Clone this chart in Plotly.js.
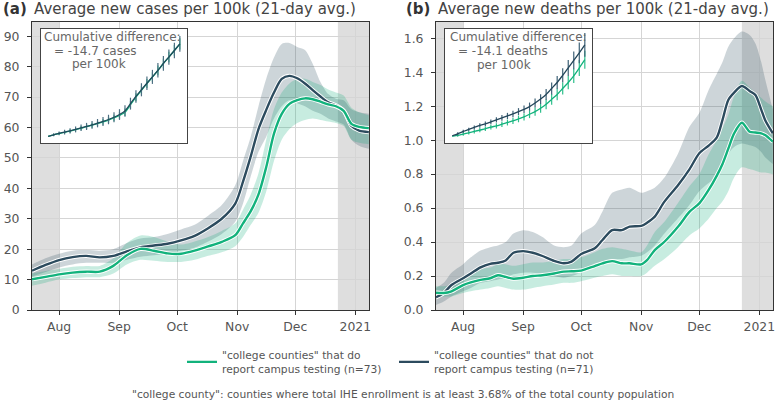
<!DOCTYPE html>
<html><head><meta charset="utf-8">
<script src="https://cdn.plot.ly/plotly-3.0.1.min.js"></script>
<style>html,body{margin:0;padding:0;background:#fff;}#chart{width:777px;height:402px;}</style>
</head><body><div id="chart"></div>
<script>
// ---------- data ----------
const caseDates = ['2020-07-18','2020-07-25','2020-08-01','2020-08-08','2020-08-15','2020-08-22','2020-08-29','2020-09-05','2020-09-12','2020-09-19','2020-09-26','2020-10-03','2020-10-10','2020-10-17','2020-10-24','2020-10-31','2020-11-04','2020-11-08','2020-11-12','2020-11-16','2020-11-20','2020-11-24','2020-11-28','2020-12-02','2020-12-06','2020-12-10','2020-12-14','2020-12-18','2020-12-22','2020-12-26','2020-12-30','2021-01-03','2021-01-08'];
const casesNoReport   = [12.9,14.8,16.4,17.4,17.8,17.3,17.8,19.3,20.6,21.2,21.8,22.9,24.4,26.9,30.0,35.0,42.2,50.5,59.5,65.8,71.5,76.0,77.0,76.2,74.5,72.3,70.2,68.3,67.3,65.5,60.5,59.0,58.5];
const casesNoReportLo = [11,12.5,14,15,15.5,15.5,15.5,16.5,17.5,18,18.5,19.5,20.5,22.5,25,29,35,44,52,57,63,67,69,68,67,65.5,64.5,63,62,61,56,54,53];
const casesNoReportHi = [15,17,18.5,19.5,19.7,19.5,20,22,23.5,24,25,26.5,28,31,34.5,41,49,57,67,76,83,87.5,87.8,86.5,85.5,81,75,71,69.5,69,66,65,64.5];
const casesReport     = [10.1,10.9,11.7,12.3,12.6,12.6,14.5,18.0,20.1,19.5,18.6,18.5,19.5,20.9,22.4,24.6,28.5,32.5,38,47,58,64.5,67.8,69,69.6,69.3,68.5,67.6,67.0,65.5,61.2,60.2,59.8];
const casesReportLo   = [8,9,10,10.5,10.8,10.8,12,15,16.5,16.2,15.8,15.8,16.5,17.8,19,21,24,28,32,39,49,56,59.5,61.5,62.5,63,62.5,62,61.5,60.5,56,55,54.5];
const casesReportHi   = [12,12.8,13.5,14.2,14.5,14.5,17,22,24.5,24,22.5,21.5,22.5,24,26,28.5,33,38,45,56,66,71.5,74.5,76,76,75,74,72.5,71.5,70.5,66.5,65,64];

const deathDates = ['2020-07-18','2020-07-22','2020-07-26','2020-08-01','2020-08-05','2020-08-10','2020-08-15','2020-08-19','2020-08-23','2020-08-27','2020-09-01','2020-09-06','2020-09-11','2020-09-17','2020-09-22','2020-09-26','2020-10-01','2020-10-08','2020-10-12','2020-10-17','2020-10-22','2020-10-26','2020-11-01','2020-11-04','2020-11-08','2020-11-13','2020-11-20','2020-11-26','2020-12-01','2020-12-06','2020-12-10','2020-12-13','2020-12-16','2020-12-19','2020-12-23','2020-12-27','2020-12-30','2021-01-02','2021-01-04','2021-01-08'];
const deathsNoReport   = [0.075,0.10,0.147,0.187,0.215,0.251,0.272,0.278,0.292,0.337,0.347,0.337,0.318,0.289,0.275,0.285,0.330,0.363,0.412,0.471,0.470,0.491,0.495,0.514,0.550,0.638,0.735,0.830,0.923,0.970,1.015,1.120,1.237,1.280,1.319,1.290,1.266,1.180,1.119,1.040];
const deathsNoReportLo = [0.03,0.05,0.08,0.11,0.13,0.16,0.17,0.18,0.19,0.21,0.22,0.22,0.21,0.2,0.19,0.2,0.22,0.25,0.28,0.3,0.3,0.31,0.32,0.34,0.38,0.45,0.54,0.62,0.7,0.75,0.78,0.85,0.92,0.96,0.98,0.97,0.96,0.93,0.9,0.86];
const deathsNoReportHi = [0.13,0.16,0.22,0.27,0.31,0.35,0.37,0.38,0.40,0.45,0.47,0.46,0.43,0.38,0.37,0.38,0.45,0.50,0.58,0.69,0.71,0.72,0.69,0.70,0.72,0.78,0.92,1.08,1.16,1.30,1.39,1.46,1.55,1.60,1.64,1.62,1.57,1.46,1.36,1.18];
const deathsReport     = [0.102,0.100,0.110,0.147,0.163,0.177,0.187,0.205,0.195,0.184,0.190,0.200,0.205,0.215,0.226,0.228,0.232,0.259,0.275,0.288,0.275,0.275,0.269,0.294,0.353,0.402,0.490,0.579,0.628,0.710,0.790,0.860,0.950,1.040,1.103,1.050,1.045,1.040,1.030,0.991];
const deathsReportLo   = [0.08,0.08,0.08,0.10,0.11,0.12,0.13,0.14,0.13,0.12,0.12,0.13,0.14,0.15,0.16,0.16,0.17,0.19,0.20,0.21,0.20,0.20,0.20,0.22,0.26,0.30,0.37,0.44,0.48,0.54,0.60,0.64,0.70,0.78,0.84,0.83,0.82,0.81,0.81,0.80];
const deathsReportHi   = [0.14,0.14,0.15,0.20,0.22,0.24,0.25,0.27,0.27,0.26,0.27,0.28,0.28,0.29,0.30,0.30,0.31,0.34,0.36,0.37,0.36,0.35,0.34,0.38,0.46,0.52,0.63,0.73,0.80,0.92,1.00,1.07,1.15,1.26,1.35,1.31,1.28,1.25,1.23,1.20];

// inset: cumulative curves (weekly), arbitrary cumulative units
const insetWeek = [0,1,2,3,4,5,6,7,8,9,10,11,12,13,14,15,16,17,18,19,20,21,22,23,24];
const insetCasesNoReport    = [6.7,8.3,9.7,11.0,12.3,13.7,15.3,16.7,18.3,20.0,21.7,23.7,26.0,28.7,32.3,39.7,47.0,53.7,60.3,66.7,73.3,80.3,86.7,93.3,100.0];
const insetCasesNoReportErr = [0,1.5,2,2.3,2.6,3,3.3,3.6,3.9,4.2,4.5,4.8,5.1,5.4,5.7,6,6.3,6.6,6.9,7.1,7.3,7.5,7.7,7.9,8];
const insetCasesReport      = [6.7,8.2,9.5,10.8,12.1,13.5,15.0,16.4,18.0,19.6,21.2,23.1,25.3,27.8,31.0,38.5,46.2,53.2,60.0,66.5,73.2,80.2,86.7,93.3,100.0];
const insetCasesReportErr   = [0,1,1.3,1.5,1.7,1.9,2.1,2.3,2.5,2.7,2.9,3.1,3.3,3.5,3.7,3.9,4.1,4.3,4.5,4.7,4.9,5.1,5.3,5.5,5.7];
const insetDeathsNoReport    = [7.3,9.3,11.7,13.7,15.7,17.7,19.3,21.3,23.3,25.3,27.3,29.3,31.7,34.0,36.7,40.3,44.3,49.0,55.0,61.0,68.3,75.7,83.3,91.0,99.0];
const insetDeathsNoReportErr = [0,1.5,1.6,1.8,2,2.2,2.3,2.5,2.7,2.9,3.1,3.3,3.5,3.8,4.1,4.5,5,5.5,6,6.5,7,8,9,10.5,12];
const insetDeathsReport      = [6.7,7.7,9.0,10.3,11.7,13.0,14.3,16.0,17.3,19.0,20.7,22.3,24.3,26.3,29.0,31.7,35.0,39.0,44.0,49.0,55.0,61.0,67.7,75.7,84.0];
const insetDeathsReportErr   = [0,1.5,1.6,1.8,2,2.1,2.3,2.5,2.6,2.8,3,3.2,3.4,3.6,3.9,4.2,4.6,5,5.4,5.8,6.2,6.7,7.2,8,9];

const monthTicks  = ['2020-08-01','2020-09-01','2020-10-01','2020-11-01','2020-12-01','2021-01-01'];
const monthLabels = ['Aug','Sep','Oct','Nov','Dec','2021'];
const casesTicks  = [0,10,20,30,40,50,60,70,80,90];
const deathsTicks = [0,0.2,0.4,0.6,0.8,1.0,1.2,1.4,1.6];
const shadeRanges = [['2020-07-18','2020-08-01'],['2020-12-23','2021-01-09']];

const seriesNames = ['"college counties" that do<br>report campus testing (n=73)',
                     '"college counties" that do not<br>report campus testing (n=71)'];

// ---------- styles ----------
const GREEN = '#12b27c', DARK = '#2c4b5e';
const GREEN_BAND = 'rgba(0,170,115,0.22)', DARK_BAND = 'rgba(46,78,98,0.24)';
const FONT = 'DejaVu Sans, Verdana, sans-serif';

function band(x, lo, hi, color, xa, ya){
  return [
    {x:x, y:lo, xaxis:xa, yaxis:ya, mode:'lines', line:{width:0, shape:'spline', smoothing:0.8}, showlegend:false, hoverinfo:'skip'},
    {x:x, y:hi, xaxis:xa, yaxis:ya, mode:'lines', fill:'tonexty', fillcolor:color, line:{width:0, shape:'spline', smoothing:0.8}, showlegend:false, hoverinfo:'skip'}
  ];
}
function mainLine(x, y, color, xa, ya, name, rank, show){
  return [
    {x:x, y:y, xaxis:xa, yaxis:ya, mode:'lines', line:{color:'#ffffff', width:4.2, shape:'spline', smoothing:0.8}, showlegend:false, hoverinfo:'skip'},
    {x:x, y:y, xaxis:xa, yaxis:ya, mode:'lines', name:name, legendrank:rank, showlegend:show, line:{color:color, width:2.4, shape:'spline', smoothing:0.8}, hoverinfo:'skip'}
  ];
}
function insetLine(y, err, color, errColor, xa, ya){
  return {x:insetWeek, y:y, xaxis:xa, yaxis:ya, mode:'lines', showlegend:false, hoverinfo:'skip',
          line:{color:color, width:1.3, shape:'spline', smoothing:0.6},
          error_y:{type:'data', array:err, visible:true, color:errColor, thickness:1.2, width:0}};
}

const traces = [].concat(
  band(caseDates, casesNoReportLo, casesNoReportHi, DARK_BAND, 'x', 'y'),
  band(caseDates, casesReportLo, casesReportHi, GREEN_BAND, 'x', 'y'),
  mainLine(caseDates, casesNoReport, DARK, 'x', 'y', seriesNames[1], 2, true),
  mainLine(caseDates, casesReport, GREEN, 'x', 'y', seriesNames[0], 1, true),
  band(deathDates, deathsNoReportLo, deathsNoReportHi, DARK_BAND, 'x2', 'y2'),
  band(deathDates, deathsReportLo, deathsReportHi, GREEN_BAND, 'x2', 'y2'),
  mainLine(deathDates, deathsNoReport, DARK, 'x2', 'y2', seriesNames[1], 2, false),
  mainLine(deathDates, deathsReport, GREEN, 'x2', 'y2', seriesNames[0], 1, false),
  [insetLine(insetCasesReport, insetCasesReportErr, GREEN, '#2fbf8c', 'x3', 'y3'),
   insetLine(insetCasesNoReport, insetCasesNoReportErr, '#1f4a5a', '#4d6f82', 'x3', 'y3'),
   insetLine(insetDeathsReport, insetDeathsReportErr, GREEN, '#2fbf8c', 'x4', 'y4'),
   insetLine(insetDeathsNoReport, insetDeathsNoReportErr, '#24465a', '#3f6277', 'x4', 'y4')]
);

const tickFont = {family:FONT, size:12.4, color:'#555'};
const mainAxis = {showline:true, mirror:true, linecolor:'#333', linewidth:1, ticks:'outside', ticklen:4, tickcolor:'#333',
  tickfont:tickFont, showgrid:true, gridcolor:'#d5d5d5', gridwidth:1, zeroline:false, fixedrange:true};
const xDate = Object.assign({}, mainAxis, {type:'date', range:['2020-07-18','2021-01-08 02:00'], tickmode:'array', tickvals:monthTicks, ticktext:monthLabels, ticklabelstandoff:1});
const insetAxis = {showline:true, mirror:true, linecolor:'#444', linewidth:1.2, ticks:'', showticklabels:false, showgrid:false, zeroline:false, fixedrange:true};

const W = 741; // plot width in px (777 - 32 - 4)
const px = v => (v - 32) / W;         // x pixel -> paper
const py = v => (310 - v) / 288;       // y pixel -> paper

const shapes = [];
[['x','y'],['x2','y2']].forEach(([xa,ya]) => {
  shadeRanges.forEach(r => shapes.push({type:'rect', xref:xa, yref:ya+' domain', x0:r[0], x1:r[1], y0:0, y1:1,
    fillcolor:'rgba(200,200,200,0.6)', line:{width:0}, layer:'below'}));
});

function ann(text, x, y, opts){
  return Object.assign({text:text, xref:'paper', yref:'paper', x:x, y:y, xanchor:'left', yanchor:'middle', showarrow:false,
    font:{family:FONT, size:12, color:'#666'}}, opts||{});
}
const annotations = [
  ann('<b>(a)</b>', px(1), py(9), {font:{family:FONT, size:15, color:'#333'}}),
  ann('Average new cases per 100k (21-day avg.)', px(32), py(9), {font:{family:FONT, size:15, color:'#444'}}),
  ann('<b>(b)</b>', px(404), py(9), {font:{family:FONT, size:15, color:'#333'}}),
  ann('Average new deaths per 100k (21-day avg.)', px(435.5), py(9), {font:{family:FONT, size:15, color:'#444'}}),
  ann('Cumulative difference:', px(42), py(37)),
  ann('= -14.7 cases', px(52), py(50.5)),
  ann('per 100k', px(70), py(64)),
  ann('Cumulative difference:', px(447.5), py(37.5)),
  ann('= -14.1 deaths', px(455.5), py(51)),
  ann('per 100k', px(474.5), py(64.5)),
  ann('"college county": counties where total IHE enrollment is at least 3.68% of the total county population', 0.5, py(394),
      {xanchor:'center', font:{family:FONT, size:10.7, color:'#555'}})
];

const layout = {
  width:777, height:402, autosize:false,
  margin:{l:32, r:4, t:22, b:92, pad:0},
  paper_bgcolor:'#ffffff', plot_bgcolor:'#ffffff',
  font:{family:FONT, color:'#555'},
  showlegend:true,
  legend:{orientation:'h', x:px(182), y:py(362), xanchor:'left', yanchor:'middle', traceorder:'normal',
    font:{family:FONT, size:10.7, color:'#555'}, bgcolor:'rgba(0,0,0,0)', borderwidth:0,
    entrywidth:167, entrywidthmode:'pixels', itemwidth:30},
  xaxis: Object.assign({}, xDate, {domain:[0, px(369)], anchor:'y'}),
  yaxis: Object.assign({}, mainAxis, {domain:[0,1], anchor:'x', range:[0,94.7], tickmode:'array', tickvals:casesTicks, ticklabelstandoff:5}),
  xaxis2: Object.assign({}, xDate, {domain:[px(436), 1], anchor:'y2'}),
  yaxis2: Object.assign({}, mainAxis, {domain:[0,1], anchor:'x2', range:[0,1.696], tickmode:'array', tickvals:deathsTicks, tickformat:'.1f', ticklabelstandoff:5}),
  xaxis3: Object.assign({}, insetAxis, {domain:[px(41), px(187)], anchor:'y3', range:[-1.3,25.3]}),
  yaxis3: Object.assign({}, insetAxis, {domain:[py(143), py(29)], anchor:'x3', range:[0,115]}),
  xaxis4: Object.assign({}, insetAxis, {domain:[px(445), px(592)], anchor:'y4', range:[-1.3,25.3]}),
  yaxis4: Object.assign({}, insetAxis, {domain:[py(143), py(29)], anchor:'x4', range:[0,115]}),
  shapes: shapes,
  annotations: annotations
};

Plotly.newPlot('chart', traces, layout, {staticPlot:true, displayModeBar:false});
</script>
</body></html>
